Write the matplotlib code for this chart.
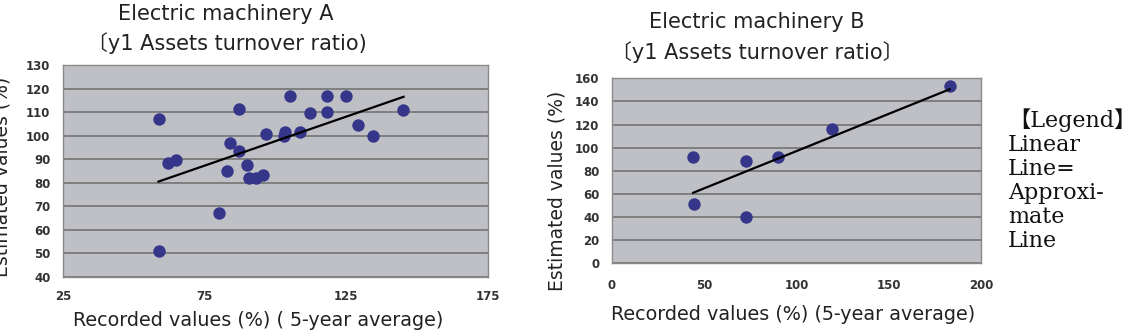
import matplotlib
matplotlib.use("Agg")
import matplotlib.pyplot as plt

W, H = 1122, 332

# chart A data
a_recorded = [59, 59, 62, 65, 80, 83, 84, 87, 87, 90, 90.5, 93, 95.5, 96.5,
              103, 103.5, 105, 108.5, 112, 118, 118, 125, 129, 134.5, 145]
a_estimated = [107, 51, 88.5, 89.5, 67, 85, 97, 111.5, 93.5, 87.5, 82, 82, 83.5, 100.5,
               100, 101.5, 117, 101.5, 109.5, 117, 110, 117, 104.5, 100, 111]
a_trend_x = [58.7, 145.2]
a_trend_y = [80.5, 116.5]

# chart B data
b_recorded = [44, 44.5, 72.5, 72.5, 90, 119, 183]
b_estimated = [92, 51, 88.5, 40, 92, 116, 153]
b_trend_x = [44, 183]
b_trend_y = [61, 150.5]

a_xticks = [25, 75, 125, 175]
a_yticks = [40, 50, 60, 70, 80, 90, 100, 110, 120, 130]
b_xticks = [0, 50, 100, 150, 200]
b_yticks = [0, 20, 40, 60, 80, 100, 120, 140, 160]

legend_lines = ["【Legend】", "Linear", "Line=", "Approxi-", "mate", "Line"]

sans = ["DejaVu Sans", "Noto Sans CJK JP"]
serif = ["DejaVu Serif", "Noto Sans CJK JP"]

face = "#bfbfc6"
grid_col = "#7a7a7a"
dot_col = "#35358a"
txt = "#222222"


def px(x, y):
    return x / W, 1 - y / H


def style_axes(ax, xticks, yticks, xlim, ylim, xpad):
    ax.set_facecolor(face)
    ax.set_xlim(*xlim)
    ax.set_ylim(*ylim)
    ax.set_xticks(xticks)
    ax.set_yticks(yticks)
    ax.yaxis.grid(True, color=grid_col, linewidth=1.3)
    ax.set_axisbelow(True)
    for s in ax.spines.values():
        s.set_color("#8a8a8a")
        s.set_linewidth(1.0)
    ax.tick_params(axis="both", length=0, labelsize=8.5, labelcolor="#333333")
    ax.tick_params(axis="x", pad=xpad)
    ax.tick_params(axis="y", pad=9)
    for lab in ax.get_xticklabels() + ax.get_yticklabels():
        lab.set_fontweight("semibold")


fig = plt.figure(figsize=(W / 100, H / 100), dpi=100)

# chart A
ax1 = fig.add_axes([63 / W, 55 / H, 425 / W, 212 / H])
style_axes(ax1, a_xticks, a_yticks, (25, 173.6), (40, 130), 9)
ax1.scatter(a_recorded, a_estimated, s=80, color=dot_col, zorder=3, linewidths=0)
ax1.plot(a_trend_x, a_trend_y, color="black", linewidth=1.6, zorder=4)

# chart B
ax2 = fig.add_axes([612 / W, 68.7 / H, 369 / W, 185 / H])
style_axes(ax2, b_xticks, b_yticks, (0, 200), (0, 160), 11)
ax2.scatter(b_recorded, b_estimated, s=80, color=dot_col, zorder=3, linewidths=0)
ax2.plot(b_trend_x, b_trend_y, color="black", linewidth=1.6, zorder=4)

# titles
fig.text(*px(226, 14), "Electric machinery A", ha="center", va="center",
         fontsize=15, family=sans, color=txt)
fig.text(*px(227, 43), "〔y1 Assets turnover ratio)", ha="center", va="center",
         fontsize=15, family=sans, color=txt)
fig.text(*px(757, 22), "Electric machinery B", ha="center", va="center",
         fontsize=15, family=sans, color=txt)
fig.text(*px(757, 52), "〔y1 Assets turnover ratio〕", ha="center", va="center",
         fontsize=15, family=sans, color=txt)

# axis labels
fig.text(*px(258, 320), "Recorded values (%) ( 5-year average)", ha="center", va="center",
         fontsize=13.8, family=sans, color=txt)
fig.text(*px(793, 315), "Recorded values (%) (5-year average)", ha="center", va="center",
         fontsize=13.8, family=sans, color=txt)
fig.text(*px(2, 177), "Estimated values (%)", ha="center", va="center", rotation=90,
         fontsize=13.5, family=sans, color=txt)
fig.text(*px(557, 191), "Estimated values (%)", ha="center", va="center", rotation=90,
         fontsize=13.5, family=sans, color=txt)

# legend note
fig.text(*px(1008, 108), "\n".join(legend_lines), ha="left", va="top",
         fontsize=16, family=serif, linespacing=1.12, color="#111111")

fig.savefig("out.png", dpi=100, facecolor="white")
